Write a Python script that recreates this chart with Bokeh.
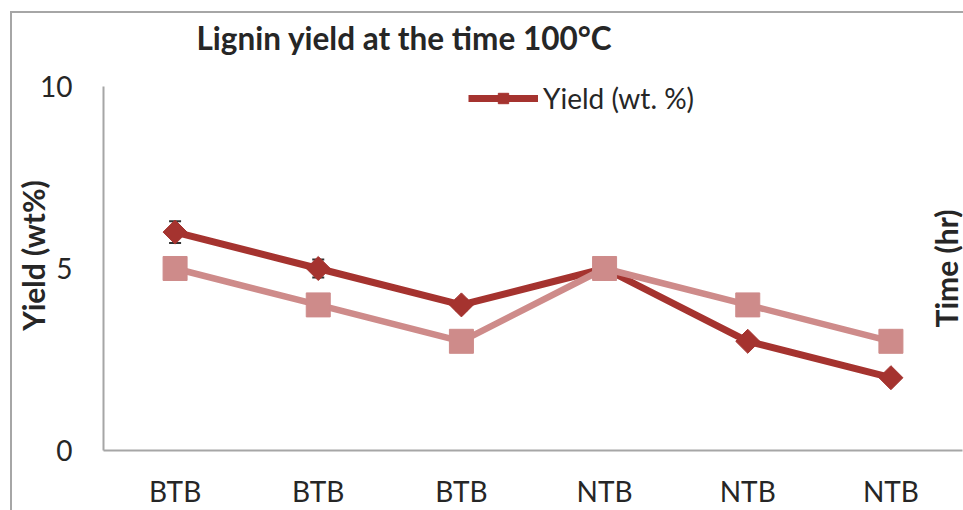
import numpy as np
from bokeh.plotting import figure
from bokeh.models import (Range1d, Legend, LegendItem, Whisker, ColumnDataSource,
                          Label, TeeHead, FixedTicker)
from bokeh.embed import file_html
from bokeh.resources import INLINE

categories = ["BTB", "BTB", "BTB", "NTB", "NTB", "NTB"]
positions = [1, 2, 3, 4, 5, 6]
yield_wt = [6, 5, 4, 5, 3, 2]
yield_err = [0.3, 0.25, 0.15, 0.1, 0.0, 0.0]
time_hr = [5, 4, 3, 5, 4, 3]
y_ticks = [0, 5, 10]

DARK = "#A5332F"
PINK = "#CE8B8A"
AXIS = "#A6A6A6"
TXT = "#262626"
FONT = "Lato"

# frame extends a little above 10 so the legend sits fully inside it;
# the y axis line itself is bounded to 0..10
p = figure(width=963, height=510, x_range=Range1d(0.5, 6.5), y_range=Range1d(0, 10.714),
           output_backend="svg", toolbar_location=None,
           min_border_left=103, min_border_right=1, min_border_top=60, min_border_bottom=60)
p.background_fill_color = "white"
p.border_fill_color = None
p.outline_line_color = None
p.xgrid.visible = False
p.ygrid.visible = False
# outer chart frame (top and left edges, as in the cropped original)
p.styles = {
    "background-color": "white",
    "background-image": "linear-gradient(#A6A6A6, #A6A6A6), linear-gradient(#A6A6A6, #A6A6A6)",
    "background-size": "100% 2px, 2px 100%",
    "background-position": "10px 11px, 10px 11px",
    "background-repeat": "no-repeat",
}

src = ColumnDataSource(dict(x=positions, y=yield_wt, t=time_hr,
                            up=[v + e for v, e in zip(yield_wt, yield_err)],
                            lo=[v - e for v, e in zip(yield_wt, yield_err)]))

wh = Whisker(source=src, base="x", upper="up", lower="lo", line_color="#333333", line_width=1.5,
             upper_head=TeeHead(size=12, line_color="#333333", line_width=2),
             lower_head=TeeHead(size=12, line_color="#333333", line_width=2))
p.add_layout(wh)

l1 = p.line("x", "y", source=src, line_color=DARK, line_width=7)
s1 = p.scatter("x", "y", source=src, marker="square", angle=np.pi / 4, size=17,
               fill_color=DARK, line_color=DARK)
l2 = p.line("x", "t", source=src, line_color=PINK, line_width=6.5)
s2 = p.scatter("x", "t", source=src, marker="square", size=24, fill_color=PINK, line_color=PINK)

# axes
for ax in (p.xaxis[0], p.yaxis[0]):
    ax.axis_line_color = AXIS
    ax.axis_line_width = 2
    ax.major_tick_line_color = None
    ax.minor_tick_line_color = None
    ax.major_label_text_font = FONT
    ax.major_label_text_font_size = "28px"
    ax.major_label_text_color = TXT

p.xaxis.ticker = FixedTicker(ticks=positions)
p.xaxis.major_label_overrides = {pos: c for pos, c in zip(positions, categories)}
p.xaxis.major_label_standoff = 17

p.yaxis.ticker = FixedTicker(ticks=y_ticks)
p.yaxis.bounds = (y_ticks[0], y_ticks[-1])
p.yaxis.major_label_standoff = 25
p.yaxis.axis_label = "Yield (wt%)"
p.yaxis.axis_label_text_font = FONT
p.yaxis.axis_label_text_font_style = "bold"
p.yaxis.axis_label_text_font_size = "30px"
p.yaxis.axis_label_text_color = TXT
p.yaxis.axis_label_standoff = -14

# title
p.title.text = "Lignin yield at the time 100°C"
p.title.text_font = FONT
p.title.text_font_style = "bold"
p.title.text_font_size = "31.5px"
p.title.text_color = TXT
p.title.align = "left"
p.title.offset = 93
p.title.standoff = 7

# right-side label
p.add_layout(Label(x=6.385, y=5.0, text="Time (hr)", angle=np.pi / 2,
                   text_font=FONT, text_font_style="bold", text_font_size="30px",
                   text_color=TXT, text_align="center", text_baseline="middle"))

legend = Legend(items=[LegendItem(label="Yield (wt. %)", renderers=[l1, s1])],
                location=(365, 335), padding=0, margin=0, spacing=0,
                glyph_width=70, glyph_height=26, label_standoff=5,
                label_text_font=FONT, label_text_font_size="28px", label_text_color=TXT,
                border_line_color=None, background_fill_alpha=0)
p.add_layout(legend)

open("out.html", "w").write(file_html(p, INLINE))
